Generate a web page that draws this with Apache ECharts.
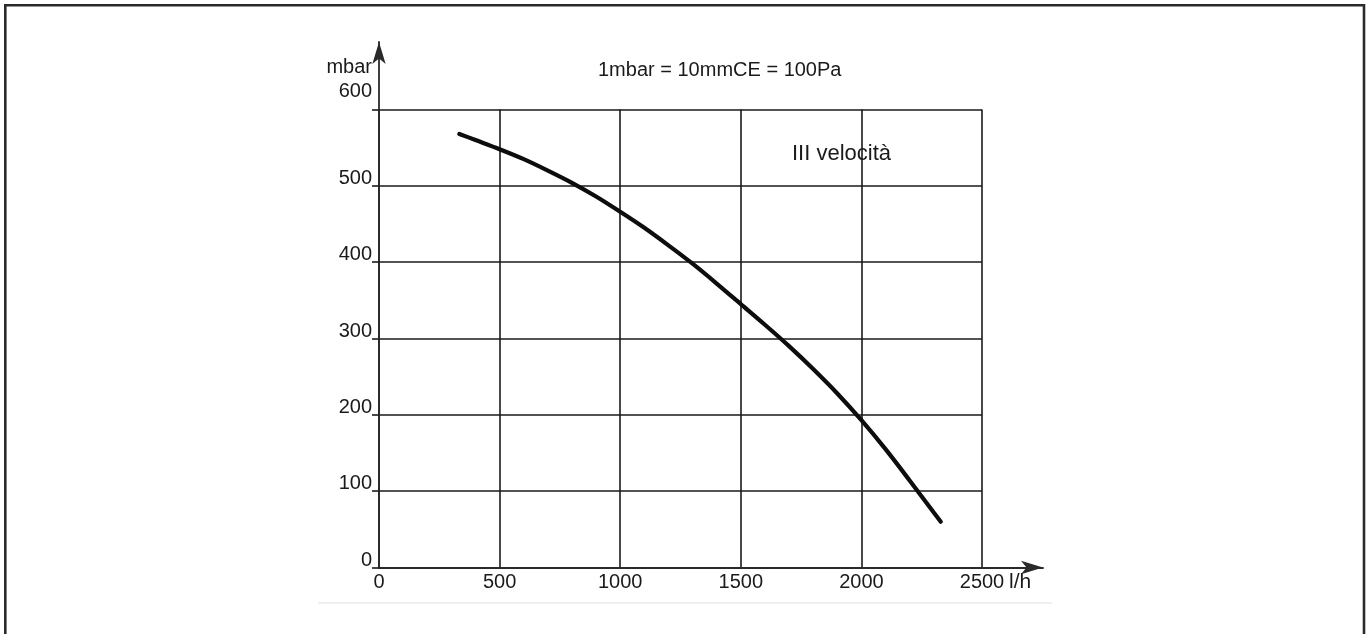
<!DOCTYPE html>
<html>
<head>
<meta charset="utf-8">
<script src="https://cdn.jsdelivr.net/npm/echarts@6/dist/echarts.min.js"></script>
<style>
html,body{margin:0;padding:0;background:#fff;}
#chart{width:1368px;height:634px;}
</style>
</head>
<body>
<div id="chart"></div>
<script>
// Data
var flowLh = [333, 400, 500, 600, 700, 800, 900, 1000, 1100, 1200, 1300, 1400, 1500, 1600, 1700, 1800, 1900, 2000, 2100, 2200, 2300, 2329];
var pressureMbar = [568, 560, 548, 535, 520, 504, 486, 466, 445, 422, 398, 372, 345, 318, 290, 260, 228, 193, 155, 114, 72, 60];
var xTicks = [0, 500, 1000, 1500, 2000, 2500];
var yTicks = [0, 100, 200, 300, 400, 500, 600];
var xUnit = 'l/h';
var yUnit = 'mbar';
var noteText = '1mbar = 10mmCE = 100Pa';
var curveLabel = 'III velocità';

var FONT = '"Liberation Sans", Arial, Helvetica, sans-serif';
var INK = '#1a1a1a';

var chart = echarts.init(document.getElementById('chart'), null, {renderer: 'canvas'});
var points = flowLh.map(function (x, i) { return [x, pressureMbar[i]]; });

var option = {
  backgroundColor: '#fff',
  animation: false,
  title: [
    {text: noteText, left: 598, top: 60, padding: 0,
     textStyle: {fontFamily: FONT, fontSize: 20, fontWeight: 'normal', color: INK, lineHeight: 20}},
    {text: curveLabel, left: 792, top: 143, padding: 0,
     textStyle: {fontFamily: FONT, fontSize: 22, fontWeight: 'normal', color: INK, lineHeight: 22}}
  ],
  graphic: [
    {type: 'rect', shape: {x: 5.3, y: 5.3, width: 1358.7, height: 720},
     style: {fill: 'none', stroke: '#2a2a2a', lineWidth: 2.6}, silent: true},
    {type: 'line', shape: {x1: 318, y1: 603, x2: 1052, y2: 603},
     style: {stroke: '#efefef', lineWidth: 2}, silent: true}
  ],
  grid: [
    {left: 379, top: 109.5, right: 1368 - 982, bottom: 634 - 567.5, containLabel: false},
    {left: 379, top: 42, right: 1368 - 1043, bottom: 634 - 567.5, containLabel: false}
  ],
  xAxis: [
    {type: 'value', gridIndex: 0, min: xTicks[0], max: xTicks[xTicks.length - 1],
     interval: xTicks[1] - xTicks[0],
     axisLine: {show: false}, axisTick: {show: false},
     splitLine: {show: true, lineStyle: {color: INK, width: 1.6}},
     axisLabel: {fontFamily: FONT, fontSize: 20, color: INK, margin: 7,
                 verticalAlign: 'top', lineHeight: 15, showMaxLabel: true, showMinLabel: true,
                 formatter: function (v) { return String(v); }},
     name: xUnit, nameLocation: 'end', nameGap: 27, nameMoveOverlap: false,
     nameTextStyle: {fontFamily: FONT, fontSize: 21, color: INK, align: 'left',
                     verticalAlign: 'top', lineHeight: 15, padding: [7, 0, 0, 0]}},
    {type: 'value', gridIndex: 1, min: 0, max: 1,
     axisLine: {show: true, symbol: ['none', 'arrow'], symbolSize: [10, 22],
                lineStyle: {color: '#2a2a2a', width: 1.8}},
     axisTick: {show: false}, axisLabel: {show: false}, splitLine: {show: false}}
  ],
  yAxis: [
    {type: 'value', gridIndex: 0, min: yTicks[0], max: yTicks[yTicks.length - 1],
     interval: yTicks[1] - yTicks[0],
     axisLine: {show: false},
     axisTick: {show: true, length: 7, lineStyle: {color: INK, width: 1.6}},
     splitLine: {show: true, lineStyle: {color: INK, width: 1.6}},
     axisLabel: {fontFamily: FONT, fontSize: 20, color: INK, margin: 7,
                 verticalAlign: 'bottom', lineHeight: 15,
                 showMaxLabel: true, showMinLabel: true,
                 formatter: function (v) {
                   return v === yTicks[yTicks.length - 1] ? '{hi|' + v + '}' : String(v);
                 },
                 rich: {hi: {fontFamily: FONT, fontSize: 20, color: INK, lineHeight: 37}}},
     name: yUnit, nameLocation: 'end', nameGap: 42, nameMoveOverlap: false,
     nameTextStyle: {fontFamily: FONT, fontSize: 20, color: INK, align: 'right',
                     verticalAlign: 'middle', padding: [0, 7, 0, 0]}},
    {type: 'value', gridIndex: 1, min: 0, max: 1,
     axisLine: {show: true, symbol: ['none', 'arrow'], symbolSize: [10, 22],
                lineStyle: {color: '#2a2a2a', width: 1.8}},
     axisTick: {show: false}, axisLabel: {show: false}, splitLine: {show: false}}
  ],
  series: [
    {type: 'line', xAxisIndex: 0, yAxisIndex: 0, data: points,
     smooth: 0.3, symbol: 'none',
     lineStyle: {color: '#0d0d0d', width: 4.2, cap: 'round'}}
  ]
};
chart.setOption(option);
</script>
</body>
</html>
